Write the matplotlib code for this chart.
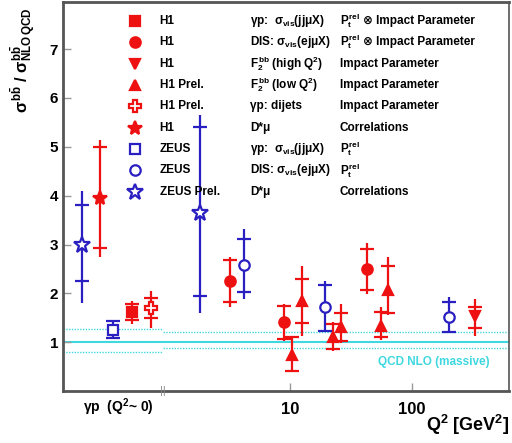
import matplotlib.pyplot as plt
import matplotlib.transforms as mtransforms

plt.rcParams["font.family"] = ["Liberation Sans", "DejaVu Sans"]
plt.rcParams["font.weight"] = "bold"
plt.rcParams["mathtext.fontset"] = "custom"
plt.rcParams["mathtext.rm"] = "Liberation Sans:bold"
plt.rcParams["mathtext.it"] = "Liberation Sans:bold"
plt.rcParams["mathtext.bf"] = "Liberation Sans:bold"
plt.rcParams["mathtext.sf"] = "Liberation Sans:bold"

RED = "#ee1111"
BLUE = "#2a1fc0"
CYAN = "#3fd8e0"
GRAY = "#555555"

# Q^2 positions (gamma-p points sit in the left, pseudo-Q^2 region)
h1_gp_x = [0.507]
h1_gp_y = [1.62]
h1_gp_stat = [(1.46, 1.78)]
h1_gp_tot = [(1.38, 1.84)]

h1_dis_x = [3.2, 8.9, 42.8]
h1_dis_y = [2.25, 1.41, 2.50]
h1_dis_stat = [(1.82, 2.69), (1.06, 1.74), (2.08, 2.91)]
h1_dis_tot = [(1.73, 2.75), (1.03, 1.78), (1.98, 3.04)]

h1_high_x = [328]
h1_high_y = [1.54]
h1_high_stat = [(1.30, 1.73)]
h1_high_tot = [(1.13, 1.88)]

h1_low_x = [10.4, 12.5, 22.5, 26.2, 55.7, 63.5]
h1_low_y = [0.73, 1.84, 1.10, 1.31, 1.33, 2.07]
h1_low_stat = [(0.41, 1.10), (1.40, 2.30), (0.86, 1.37), (1.03, 1.60), (1.10, 1.62), (1.60, 2.56)]
h1_low_tot = [(0.40, 1.12), (1.13, 2.57), (0.82, 1.42), (0.98, 1.78), (1.05, 1.72), (1.55, 2.75)]

h1_dijet_x = [0.726]
h1_dijet_y = [1.70]
h1_dijet_stat = [(1.50, 1.90)]
h1_dijet_tot = [(1.30, 2.05)]

h1_dstar_x = [0.277]
h1_dstar_y = [3.95]
h1_dstar_stat = [(2.93, 5.00)]
h1_dstar_tot = [(2.75, 5.15)]

zeus_gp_x = [0.354]
zeus_gp_y = [1.26]
zeus_gp_stat = [(1.08, 1.43)]
zeus_gp_tot = [(1.08, 1.43)]

zeus_dis_x = [4.2, 19.4, 201]
zeus_dis_y = [2.58, 1.72, 1.52]
zeus_dis_stat = [(2.03, 3.12), (1.23, 2.18), (1.21, 1.82)]
zeus_dis_tot = [(1.88, 3.32), (1.23, 2.25), (1.21, 1.93)]

zeus_dstar_x = [0.197, 1.83]
zeus_dstar_y = [3.00, 3.65]
zeus_dstar_stat = [(2.25, 3.80), (1.95, 5.40)]
zeus_dstar_tot = [(1.80, 4.10), (1.60, 5.65)]

exp_labels = ["H1", "H1", "H1", "H1 Prel.", "H1 Prel.", "H1", "ZEUS", "ZEUS", "ZEUS Prel."]
process_labels = [
    r"γp:  $\sigma_{vis}$(jjμX)",
    r"DIS: $\sigma_{vis}$(ejμX)",
    r"$F_2^{bb}$ (high Q$^2$)",
    r"$F_2^{bb}$ (low Q$^2$)",
    "γp: dijets",
    "D*μ",
    r"γp:  $\sigma_{vis}$(jjμX)",
    r"DIS: $\sigma_{vis}$(ejμX)",
    "D*μ",
]
method_labels = [
    r"$P_t^{rel}$",
    r"$P_t^{rel}$",
    "Impact Parameter",
    "Impact Parameter",
    "Impact Parameter",
    "Correlations",
    r"$P_t^{rel}$",
    r"$P_t^{rel}$",
    "Correlations",
]
method_extra = ["⊗ Impact Parameter", "⊗ Impact Parameter", "", "", "", "", "", "", ""]

# NLO QCD band: photoproduction part and DIS part
band_break = 0.91
nlo_central = 1.0
nlo_gp_band = (0.80, 1.27)
nlo_dis_band = (0.88, 1.22)

series = [
    (h1_gp_x, h1_gp_y, h1_gp_stat, h1_gp_tot, dict(marker="s", color=RED, mfc=RED, ms=6.5)),
    (h1_dis_x, h1_dis_y, h1_dis_stat, h1_dis_tot, dict(marker="o", color=RED, mfc=RED, ms=7.5)),
    (h1_high_x, h1_high_y, h1_high_stat, h1_high_tot, dict(marker="v", color=RED, mfc=RED, ms=7)),
    (h1_low_x, h1_low_y, h1_low_stat, h1_low_tot, dict(marker="^", color=RED, mfc=RED, ms=7)),
    (h1_dijet_x, h1_dijet_y, h1_dijet_stat, h1_dijet_tot, dict(marker="P", color=RED, mfc="white", ms=8.5)),
    (h1_dstar_x, h1_dstar_y, h1_dstar_stat, h1_dstar_tot, dict(marker="*", color=RED, mfc=RED, ms=10)),
    (zeus_gp_x, zeus_gp_y, zeus_gp_stat, zeus_gp_tot, dict(marker="s", color=BLUE, mfc="white", ms=6.5)),
    (zeus_dis_x, zeus_dis_y, zeus_dis_stat, zeus_dis_tot, dict(marker="o", color=BLUE, mfc="white", ms=7.5)),
    (zeus_dstar_x, zeus_dstar_y, zeus_dstar_stat, zeus_dstar_tot, dict(marker="*", color=BLUE, mfc="white", ms=12)),
]

fig = plt.figure(figsize=(5.12, 4.43), dpi=100)
ax = fig.add_axes([0.123, 0.117, 0.871, 0.878])
ax.set_xscale("log")
ax.set_xlim(0.138, 624)
ax.set_ylim(0, 7.96)

# QCD NLO band
x_lo, x_hi = ax.get_xlim()
ax.axhline(nlo_central, color=CYAN, lw=1.5, zorder=1)
for yb in nlo_gp_band:
    ax.hlines(yb, x_lo, band_break, color=CYAN, lw=1.0, ls=(0, (1, 1)), zorder=1)
for yb in nlo_dis_band:
    ax.hlines(yb, band_break, x_hi, color=CYAN, lw=1.0, ls=(0, (1, 1)), zorder=1)
ax.text(150, 0.6, "QCD NLO (massive)", color=CYAN, fontsize=8.5, ha="center", va="center")

for xs, ys, stat, tot, st in series:
    c = st["color"]
    for x, y, (s_lo, s_hi), (t_lo, t_hi) in zip(xs, ys, stat, tot):
        ax.vlines(x, t_lo, t_hi, color=c, lw=1.6, zorder=2)
        ax.plot([x, x], [s_lo, s_hi], ls="none", marker="_", ms=10, mew=1.6, color=c, zorder=2)
    ax.plot(xs, ys, ls="none", marker=st["marker"], ms=st["ms"], mfc=st["mfc"],
            mec=c, mew=1.6, zorder=3)

# legend block
row_y = [1 - (18.5 + 21.4 * i) / 389 for i in range(len(series))]
for i, (xs, ys, stat, tot, st) in enumerate(series):
    yr = row_y[i]
    ax.plot([0.161], [yr], transform=ax.transAxes, ls="none", marker=st["marker"],
            ms=st["ms"], mfc=st["mfc"], mec=st["color"], mew=1.6, clip_on=False)
    ax.text(0.217, yr, exp_labels[i], transform=ax.transAxes, fontsize=8.5, va="center")
    ax.text(0.419, yr, process_labels[i], transform=ax.transAxes, fontsize=8.5, va="center")
    ax.text(0.621, yr, method_labels[i], transform=ax.transAxes, fontsize=8.5, va="center")
    if method_extra[i]:
        ax.text(0.672, yr, method_extra[i], transform=ax.transAxes, fontsize=8.5, va="center")

# axes styling
for sp in ax.spines.values():
    sp.set_color(GRAY)
    sp.set_linewidth(1.2)
ax.spines["left"].set_linewidth(2)
ax.spines["bottom"].set_linewidth(2)
ax.spines["top"].set_linewidth(2)

ax.set_yticks([1, 2, 3, 4, 5, 6, 7])
ax.set_xticks([10, 100])
ax.set_xticklabels(["10", "100"])
ax.xaxis.set_minor_locator(plt.NullLocator())
ax.tick_params(axis="both", direction="in", color="#999999", width=1, length=6, labelsize=11)
ax.tick_params(axis="x", pad=8, labelsize=12)

trans = mtransforms.blended_transform_factory(ax.transData, ax.transAxes)
ax.text(band_break, 0.0, "||", transform=trans, ha="center", va="center", color="#888888",
        fontsize=8, fontweight="normal")
ax.text(0.39, -0.04, "γp  (Q$^2$~ 0)", transform=trans, ha="center", va="center", fontsize=10)

ax.text(1.0, -0.088, "Q$^2$ [GeV$^2$]", transform=ax.transAxes, ha="right", va="center", fontsize=13)
fig.text(0.045, 0.865, r"$\sigma^{b\bar{b}}$ / $\sigma^{b\bar{b}}_{NLO\,QCD}$", rotation=90,
         ha="center", va="center", fontsize=12)

fig.savefig("out.png", dpi=100)
